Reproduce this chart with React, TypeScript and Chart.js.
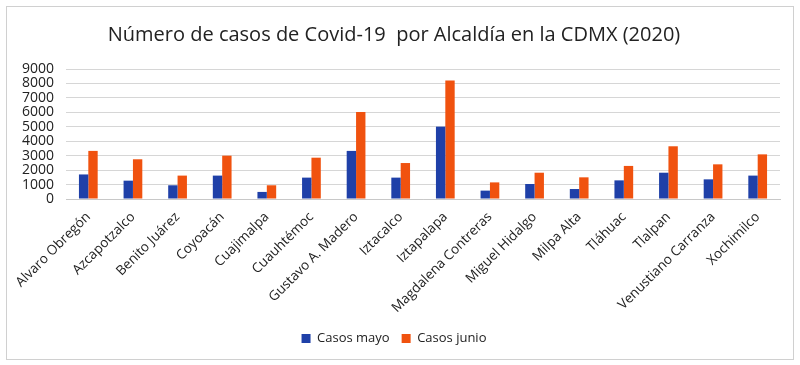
import React, { useEffect, useRef } from "react";
import { Chart, registerables } from "chart.js";

Chart.register(...registerables);

const categories = [
  "Alvaro Obregón",
  "Azcapotzalco",
  "Benito Juárez",
  "Coyoacán",
  "Cuajimalpa",
  "Cuauhtémoc",
  "Gustavo A. Madero",
  "Iztacalco",
  "Iztapalapa",
  "Magdalena Contreras",
  "Miguel Hidalgo",
  "Milpa Alta",
  "Tláhuac",
  "Tlalpan",
  "Venustiano Carranza",
  "Xochimilco",
];

const casosMayo = [1700, 1270, 950, 1620, 490, 1480, 3330, 1480, 5010, 580, 1040, 690, 1290, 1820, 1360, 1620];
const casosJunio = [3330, 2750, 1620, 3000, 950, 2860, 6030, 2490, 8200, 1150, 1820, 1500, 2290, 3650, 2400, 3090];

const seriesNames = ["Casos mayo", "Casos junio"];
const titleText = "Número de casos de Covid-19  por Alcaldía en la CDMX (2020)";
const yMax = 9000;
const yStep = 1000;

const FONT = "'Open Sans', 'Liberation Sans', sans-serif";

export default function App() {
  const ref = useRef<HTMLCanvasElement | null>(null);

  useEffect(() => {
    if (!ref.current) return;
    const chart = new Chart(ref.current, {
      type: "bar",
      data: {
        labels: categories,
        datasets: [
          {
            label: seriesNames[0],
            data: casosMayo,
            backgroundColor: "#1f40a8",
            categoryPercentage: 0.42,
            barPercentage: 1.0,
          },
          {
            label: seriesNames[1],
            data: casosJunio,
            backgroundColor: "#f0520f",
            categoryPercentage: 0.42,
            barPercentage: 1.0,
          },
        ],
      },
      options: {
        animation: false,
        responsive: false,
        maintainAspectRatio: false,
        layout: { padding: { left: 8, right: 20, top: 10, bottom: 10 } },
        plugins: {
          title: {
            display: true,
            text: titleText,
            color: "#222",
            font: { family: FONT, size: 20, weight: "normal" },
            padding: { top: 13, bottom: 22 },
          },
          legend: {
            position: "bottom",
            labels: {
              boxWidth: 9,
              boxHeight: 9,
              color: "#222",
              font: { family: FONT, size: 13 },
              padding: 12,
            },
          },
          tooltip: { enabled: false },
        },
        scales: {
          x: {
            grid: { display: false, drawTicks: false },
            border: { display: true, color: "#c8c8c8" },
            ticks: {
              maxRotation: 45,
              minRotation: 45,
              autoSkip: false,
              color: "#222",
              padding: 10,
              font: { family: FONT, size: 13.5 },
            },
            afterFit: (s: any) => {
              s.height = 121;
            },
          },
          y: {
            min: 0,
            max: yMax,
            ticks: {
              stepSize: yStep,
              autoSkip: false,
              color: "#222",
              padding: 12,
              font: { family: FONT, size: 14 },
              callback: (v: any) => String(v),
            },
            grid: { color: "#d6d6d6", drawTicks: false },
            border: { display: false },
            afterFit: (s: any) => {
              s.width = 58;
            },
          },
        },
      },
    });
    return () => chart.destroy();
  }, []);

  return (
    <div style={{ position: "fixed", left: 0, top: 0, width: 800, height: 365, background: "#fff" }}>
      <div
        style={{
          position: "absolute",
          left: 6,
          top: 6,
          width: 788,
          height: 354,
          border: "1px solid #d0d0d0",
          boxSizing: "border-box",
        }}
      />
      <canvas ref={ref} width={800} height={365} style={{ position: "absolute", left: 0, top: 0 }} />
    </div>
  );
}
